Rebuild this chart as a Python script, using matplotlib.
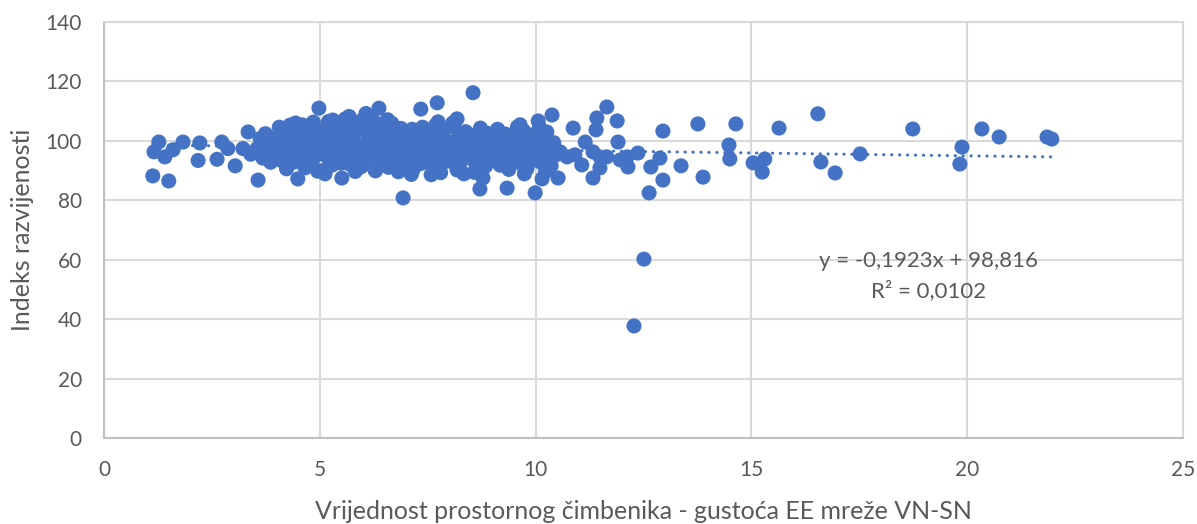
import matplotlib
matplotlib.use("Agg")
import matplotlib.pyplot as plt

# Gustoća EE mreže VN-SN (x) i indeks razvijenosti (y) po jedinicama
x_rub = [1.13, 1.50, 1.27, 1.16, 1.41, 1.60, 1.83, 2.22, 2.18, 2.62, 2.73, 2.87,
         3.04, 3.34, 3.22, 3.57, 3.40, 4.49, 4.98, 5.51, 6.93, 7.34, 7.72, 8.55,
         6.37, 8.18, 8.71, 8.78, 9.34, 9.99, 10.15, 10.52, 10.38, 10.87, 10.06,
         9.64, 11.42, 11.65, 11.89, 11.40, 11.15, 11.91, 11.33, 12.63, 12.95,
         12.95, 12.88, 13.37, 13.76, 13.88, 14.48, 14.50, 14.64, 15.04, 15.25,
         15.31, 15.64, 16.54, 16.61, 16.94, 17.52, 18.74, 19.88, 19.83, 20.34,
         20.74, 21.85, 21.96, 12.51, 12.28,
         10.57, 10.73, 10.91, 11.07, 11.33, 11.49, 11.49, 11.65, 11.96, 12.12,
         12.14, 12.37, 12.67, 4.31, 5.30]
y_rub = [88.2, 86.5, 99.6, 96.3, 94.6, 97.0, 99.6, 99.3, 93.4, 93.8, 99.6, 97.4,
         91.6, 103.0, 97.4, 86.8, 95.5, 87.2, 111.0, 87.5, 80.8, 110.7, 112.8, 116.2,
         111.0, 107.4, 83.8, 87.5, 84.1, 82.5, 87.2, 87.5, 108.7, 104.3, 106.7,
         105.4, 107.7, 111.4, 106.7, 103.7, 99.6, 99.6, 87.5, 82.5, 86.8,
         103.3, 94.2, 91.6, 105.7, 87.8, 98.6, 93.9, 105.7, 92.6, 89.5,
         93.9, 104.3, 109.1, 92.9, 89.2, 95.6, 104.0, 97.9, 92.2, 104.0,
         101.3, 101.3, 100.6, 60.2, 37.7,
         96.3, 94.6, 95.3, 91.9, 96.3, 90.9, 94.6, 94.6, 93.6, 94.6,
         91.2, 95.9, 91.2, 105.3, 107.0]

x_jezgra = [3.55, 3.62, 3.68, 3.74, 3.80, 3.86, 3.92, 3.97, 3.65, 3.88,
            4.02, 4.06, 4.11, 4.15, 4.19, 4.23, 4.28, 4.32, 4.36, 4.41, 4.45, 4.48, 4.08, 4.25, 4.38, 4.44,
            4.52, 4.55, 4.59, 4.63, 4.66, 4.70, 4.74, 4.78, 4.82, 4.86, 4.89, 4.93, 4.97, 4.57, 4.72, 4.85, 4.95,
            5.02, 5.05, 5.09, 5.13, 5.17, 5.20, 5.24, 5.28, 5.31, 5.35, 5.39, 5.43, 5.47, 5.12, 5.26, 5.41, 5.49, 5.07,
            5.52, 5.56, 5.59, 5.63, 5.67, 5.70, 5.74, 5.78, 5.82, 5.85, 5.89, 5.93, 5.97, 5.61, 5.76, 5.87, 5.95, 5.68,
            6.01, 6.05, 6.09, 6.12, 6.16, 6.20, 6.24, 6.27, 6.31, 6.35, 6.39, 6.43, 6.47, 6.07, 6.22, 6.33, 6.45, 6.14, 6.29,
            6.51, 6.55, 6.59, 6.63, 6.67, 6.70, 6.74, 6.78, 6.82, 6.86, 6.90, 6.94, 6.98, 6.57, 6.72, 6.88, 6.65,
            7.02, 7.06, 7.10, 7.14, 7.18, 7.22, 7.26, 7.30, 7.34, 7.38, 7.42, 7.46, 7.12, 7.28, 7.44,
            7.52, 7.56, 7.60, 7.64, 7.68, 7.72, 7.76, 7.80, 7.84, 7.88, 7.92, 7.96, 7.58, 7.74, 7.90,
            8.02, 8.06, 8.10, 8.14, 8.18, 8.22, 8.26, 8.30, 8.34, 8.38, 8.42, 8.46, 8.08, 8.24, 8.40, 8.48,
            8.52, 8.56, 8.60, 8.64, 8.68, 8.72, 8.76, 8.80, 8.84, 8.88, 8.92, 8.96, 8.58, 8.74, 8.90,
            9.02, 9.06, 9.10, 9.14, 9.18, 9.22, 9.26, 9.30, 9.34, 9.38, 9.42, 9.46, 9.12, 9.28, 9.44,
            9.52, 9.56, 9.60, 9.64, 9.68, 9.72, 9.76, 9.80, 9.84, 9.88, 9.92, 9.96, 9.58, 9.74, 9.90,
            10.02, 10.06, 10.11, 10.16, 10.21, 10.26, 10.31, 10.36, 10.42, 10.48, 10.09, 10.23, 10.39]
y_jezgra = [97.5, 100.8, 94.2, 102.4, 98.9, 92.8, 96.3, 101.1, 99.2, 95.0,
            99.1, 104.6, 93.4, 97.8, 101.9, 90.6, 95.7, 105.2, 99.8, 92.9, 103.1, 97.2, 96.4, 100.5, 94.1, 106.0,
            101.3, 94.8, 105.4, 98.2, 90.9, 102.7, 96.1, 104.1, 92.6, 99.5, 103.6, 95.3, 100.9, 97.7, 93.2, 106.3, 89.8,
            97.4, 103.2, 90.1, 100.6, 94.7, 106.5, 98.3, 91.8, 102.1, 96.0, 104.8, 93.3, 99.7, 88.9, 101.4, 97.1, 92.5, 95.6,
            101.8, 95.2, 107.4, 98.9, 92.3, 104.6, 96.7, 100.3, 89.7, 103.5, 97.6, 93.9, 106.8, 99.4, 102.9, 94.8, 91.2, 108.2,
            98.6, 104.1, 92.7, 101.2, 95.8, 107.9, 99.5, 90.4, 103.7, 97.1, 105.6, 93.6, 100.4, 109.2, 96.5, 102.3, 94.2, 106.3, 89.9,
            96.9, 103.4, 91.1, 99.8, 105.9, 94.3, 101.6, 97.5, 89.6, 102.8, 95.4, 99.1, 92.6, 107.1, 93.0, 104.2, 98.3,
            100.2, 93.8, 97.4, 103.9, 90.8, 98.7, 95.1, 101.7, 92.4, 104.6, 97.9, 94.6, 88.7, 99.2, 102.8,
            96.2, 102.5, 91.7, 99.0, 105.2, 94.5, 100.7, 89.3, 97.8, 103.6, 93.1, 98.4, 88.6, 106.4, 95.7,
            99.6, 93.0, 104.8, 96.4, 90.2, 101.5, 95.0, 98.8, 88.9, 103.1, 94.4, 97.3, 106.0, 92.1, 100.6, 96.8,
            95.9, 101.8, 92.6, 98.2, 94.0, 104.3, 96.7, 99.4, 91.5, 102.6, 95.3, 97.9, 89.4, 93.4, 100.1,
            97.0, 93.2, 100.5, 95.6, 91.8, 98.9, 94.7, 102.3, 96.1, 90.4, 99.7, 95.0, 103.9, 92.5, 97.6,
            98.4, 94.1, 101.6, 96.8, 92.2, 103.4, 97.1, 90.7, 99.5, 95.4, 102.0, 93.6, 104.7, 88.9, 97.9,
            96.0, 101.3, 92.9, 98.5, 94.7, 103.0, 97.2, 91.6, 99.4, 95.3, 104.5, 89.7, 97.8]

x_vals = x_rub + x_jezgra
y_vals = y_rub + y_jezgra

# linearni trend (Excel)
nagib = -0.1923
odsjecak = 98.816
r2 = 0.0102

x_ticks = [0, 5, 10, 15, 20, 25]
y_ticks = [0, 20, 40, 60, 80, 100, 120, 140]

plava = "#4472C4"
siva_tekst = "#595959"
siva_mreza = "#D9D9D9"

plt.rcParams['font.family'] = ['Lato', 'DejaVu Sans']

fig = plt.figure(figsize=(11.97, 5.24), dpi=100)
ax = fig.add_axes([104 / 1197, 86 / 524, 1079 / 1197, 416 / 524])

ax.scatter(x_vals, y_vals, s=118, color=plava, edgecolors='none', zorder=3)

x_min, x_max = min(x_vals), max(x_vals)
ax.plot([x_min, x_max], [nagib * x_min + odsjecak, nagib * x_max + odsjecak],
        color=plava, lw=2.2, linestyle=(0, (0.1, 2.5)), dash_capstyle='round', zorder=4)

ax.text(19.1, 59.5, "y = -0,1923x + 98,816", ha='center', va='center',
        fontsize=16, color=siva_tekst)
ax.text(19.1, 49.5, "R² = 0,0102", ha='center', va='center',
        fontsize=16, color=siva_tekst)

ax.set_xlim(0, 25)
ax.set_ylim(0, 140)
ax.set_xticks(x_ticks)
ax.set_yticks(y_ticks)
ax.grid(True, color=siva_mreza, lw=1.5, zorder=0)
ax.set_axisbelow(True)
ax.tick_params(length=0, labelsize=15, labelcolor=siva_tekst, pad=16)

for s in ['top', 'right']:
    ax.spines[s].set_color(siva_mreza)
    ax.spines[s].set_linewidth(1.5)
for s in ['left', 'bottom']:
    ax.spines[s].set_color("#BFBFBF")
    ax.spines[s].set_linewidth(1.5)

ax.set_xlabel("Vrijednost prostornog čimbenika - gustoća EE mreže VN-SN",
              fontsize=18, color=siva_tekst, labelpad=14)
ax.set_ylabel("Indeks razvijenosti", fontsize=18, color=siva_tekst, labelpad=8)

fig.savefig("out.png", dpi=100)
